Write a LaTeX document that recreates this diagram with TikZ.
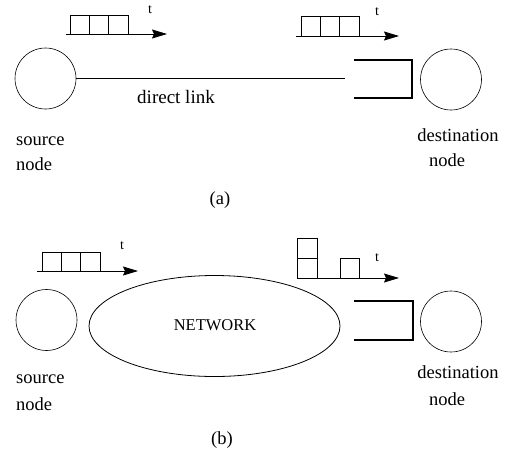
\documentclass[tikz,border=0pt]{standalone}
\usepackage{fontspec}
\setmainfont{Liberation Serif}
\usetikzlibrary{arrows.meta,shapes.geometric}
\tikzset{
  endpt/.style={draw, circle, minimum size=61pt, inner sep=0pt, line width=0.6pt},
  lbl/.style={font=\fontsize{18.5}{20}\selectfont, inner sep=0pt, align=center},
  tlbl/.style={font=\fontsize{14}{16}\selectfont, inner sep=0pt},
  cell/.style={draw, line width=0.6pt},
  timeax/.style={line width=0.8pt, -{Stealth[length=15pt,width=9pt,inset=2pt]}},
  bracket/.style={line width=1.8pt},
  linkline/.style={line width=1.2pt}
}
\begin{document}
\begin{tikzpicture}[x=1pt,y=-1pt]
\useasboundingbox (0,0) rectangle (505,453);
% ---------------- (a) ----------------
\node[endpt] (srcA) at (45.5,78.5) {};
\node[endpt] (dstA) at (451,79.5) {};
\coordinate (linkEndA) at (345,78.5);
\draw[linkline] (srcA.east) -- (linkEndA);
\node[lbl, font=\fontsize{19}{21}\selectfont] (dl) at (176,97) {direct link};
% left queue
\coordinate (qa0) at (66,34);
\coordinate (qa1) at (167,34);
\draw[cell] (70,15) rectangle (89.3,34);
\draw[cell] (89.3,15) rectangle (108.7,34);
\draw[cell] (108.7,15) rectangle (128,34);
\draw[timeax] (qa0) -- (qa1);
\node[tlbl] (ta1) at (150,10) {t};
% right queue
\coordinate (qb0) at (296,36);
\coordinate (qb1) at (399,36);
\draw[cell] (301,16) rectangle (320.3,36);
\draw[cell] (320.3,16) rectangle (339.7,36);
\draw[cell] (339.7,16) rectangle (359,36);
\draw[timeax] (qb0) -- (qb1);
\node[tlbl] (ta2) at (377,12) {t};
% bracket
\coordinate (brA1) at (354,60);
\coordinate (brA2) at (412,60);
\coordinate (brA3) at (412,98);
\coordinate (brA4) at (354,98);
\draw[bracket] (brA1) -- (brA2) -- (brA3) -- (brA4);
% labels
\node[lbl, anchor=west] (srcAl) at (16,141) {source};
\node[lbl, anchor=west] (srcAl2) at (16,164) {node};
\node[lbl] (dstAl) at (458,135) {destination};
\node[lbl] (dstAl2) at (447,160) {node};
\node[lbl] (capA) at (220,200) {(a)};
% ---------------- (b) ----------------
\node[endpt] (srcB) at (46.5,320) {};
\node[endpt] (dstB) at (451,321.5) {};
\node[draw, ellipse, minimum width=251pt, minimum height=101pt, inner sep=0pt, line width=0.8pt] (net) at (214.5,326) {};
\node[lbl, font=\fontsize{16.5}{18}\selectfont] (netl) at (215,325) {NETWORK};
% left queue
\coordinate (qc0) at (37,271);
\coordinate (qc1) at (138,271);
\draw[cell] (42,252) rectangle (61.3,271);
\draw[cell] (61.3,252) rectangle (80.7,271);
\draw[cell] (80.7,252) rectangle (100,271);
\draw[timeax] (qc0) -- (qc1);
\node[tlbl] (tb1) at (122,246) {t};
% right queue
\coordinate (qd0) at (297,278);
\coordinate (qd1) at (399,278);
\draw[cell] (297,238) rectangle (317,258);
\draw[cell] (297,258) rectangle (317,278);
\draw[cell] (340,258) rectangle (359,278);
\draw[timeax] (qd0) -- (qd1);
\node[tlbl] (tb2) at (377,258) {t};
% bracket
\coordinate (brB1) at (354,301);
\coordinate (brB2) at (413,301);
\coordinate (brB3) at (413,340);
\coordinate (brB4) at (354,340);
\draw[bracket] (brB1) -- (brB2) -- (brB3) -- (brB4);
% labels
\node[lbl, anchor=west] (srcBl) at (16,379) {source};
\node[lbl, anchor=west] (srcBl2) at (16,404) {node};
\node[lbl] (dstBl) at (458,372) {destination};
\node[lbl] (dstBl2) at (447,399) {node};
\node[lbl] (capB) at (222,440) {(b)};
\end{tikzpicture}
\end{document}
